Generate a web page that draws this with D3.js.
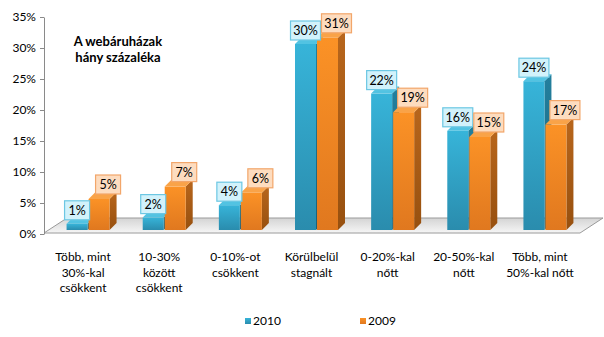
<!DOCTYPE html>
<html><head><meta charset="utf-8">
<script src="https://cdn.jsdelivr.net/npm/d3@7/dist/d3.min.js"></script>
<style>body{margin:0;background:#fff}svg{display:block;font-family:Lato,"Open Sans",sans-serif}</style>
</head><body><svg id="c" width="604" height="337"></svg>
<script>
const categories = [["Több, mint","30%-kal","csökkent"],["10-30%","között","csökkent"],["0-10%-ot","csökkent"],["Körülbelül","stagnált"],["0-20%-kal","nőtt"],["20-50%-kal","nőtt"],["Több, mint","50%-kal nőtt"]];
const values2010 = [1,2,4,30,22,16,24];
const values2009 = [5,7,6,31,19,15,17];
const seriesNames = ["2010","2009"];
const yTicks = [0,5,10,15,20,25,30,35];
const chartTitle = ["A webáruházak","hány százaléka"];

const svg = d3.select("#c");
const defs = svg.append("defs");
function grad(id, c1, c2, horiz){
  const g = defs.append("linearGradient").attr("id",id).attr("x1",0).attr("y1",0).attr("x2",horiz?1:0).attr("y2",horiz?0:1);
  g.append("stop").attr("offset","0%").attr("stop-color",c1);
  g.append("stop").attr("offset","100%").attr("stop-color",c2);
}
grad("bFront","#37b4d9","#2a8cad");
grad("oFront","#fb9226","#e0781f");
grad("bSide","#23809e","#1a6179");
grad("oSide","#b8661c","#97500f");
grad("floorG","#d4d4d4","#f6f6f6");

const x = d3.scaleBand().domain(d3.range(categories.length)).range([45,578]).padding(0);
const y = d3.scaleLinear().domain([0,35]).range([234,17]);
const depth = 4; // perspective shift of bar base vs axis
const dx = 7, dy = -7;

// floor
const fx0 = 44, fx1 = 580, fy = 233;
svg.append("polygon")
  .attr("points",[[fx0,fy],[fx1,fy],[fx1+23,fy-15],[fx0+23,fy-15]].map(p=>p.join(",")).join(" "))
  .attr("fill","url(#floorG)").attr("stroke","#9a9a9a").attr("stroke-width",1);

// y axis
const yAxis = d3.axisLeft(y).tickValues(yTicks).tickFormat(d=>d+"%").tickSize(4).tickSizeOuter(0);
const ga = svg.append("g").attr("transform","translate(44,0)").call(yAxis);
ga.select(".domain").attr("stroke","#8a8a8a");
ga.selectAll(".tick line").attr("stroke","#8a8a8a");
ga.selectAll(".tick text").attr("font-size",12).attr("fill","#000").attr("font-family","Lato").attr("x",-8);

function bar(cx, w, v, front, side, top){
  const yt = y(v)-depth, yb = y(0)-depth;
  const g = svg.append("g");
  g.append("polygon").attr("points",[[cx+w,yt],[cx+w+dx,yt+dy],[cx+w+dx,yb+dy],[cx+w,yb]].map(p=>p.join(",")).join(" ")).attr("fill",side);
  g.append("polygon").attr("points",[[cx,yt],[cx+dx,yt+dy],[cx+w+dx,yt+dy],[cx+w,yt]].map(p=>p.join(",")).join(" ")).attr("fill",top);
  g.append("rect").attr("x",cx).attr("y",yt).attr("width",w).attr("height",yb-yt).attr("fill",front);
}
function label(cx, yb, txt, fill, stroke){
  const w = txt.length>2 ? 30 : 25, h = 19;
  svg.append("rect").attr("x",cx-w/2).attr("y",yb-h).attr("width",w).attr("height",h)
    .attr("fill",fill).attr("stroke",stroke).attr("stroke-width",1.2);
  svg.append("text").attr("x",cx).attr("y",yb-5).attr("text-anchor","middle").attr("font-size",12.5).attr("fill","#000").text(txt);
}
const bw = 21;
categories.forEach((c,i)=>{
  const cc = x(i)+x.bandwidth()/2;
  const bx = cc-16.5, ox = cc+5.5;
  bar(bx,bw,values2010[i],"url(#bFront)","url(#bSide)","#52c3e2");
  bar(ox,bw,values2009[i],"url(#oFront)","url(#oSide)","#f9a348");
});
categories.forEach((c,i)=>{
  const cc = x(i)+x.bandwidth()/2;
  label(cc-6, y(values2010[i])-depth-4, values2010[i]+"%", "#d2f2fb", "#6cc7e3");
  label(cc+25, y(values2009[i])-depth-5, values2009[i]+"%", "#fddcbf", "#f2a66a");
  const t = svg.append("text").attr("text-anchor","middle").attr("font-size",12).attr("fill","#000");
  c.forEach((line,k)=>t.append("tspan").attr("x",cc).attr("y",261+k*15.5).text(line));
});

// title
chartTitle.forEach((t,k)=>svg.append("text").attr("x",118).attr("y",46+k*15.5).attr("text-anchor","middle")
  .attr("font-size",13).attr("font-weight","bold").attr("fill","#000").text(t));

// legend
const lg = [[245,"url(#bFront)"],[360,"url(#oFront)"]];
seriesNames.forEach((s,k)=>{
  svg.append("rect").attr("x",lg[k][0]).attr("y",318).attr("width",6).attr("height",6).attr("fill",lg[k][1]);
  svg.append("text").attr("x",lg[k][0]+8).attr("y",325).attr("font-size",12).attr("fill","#000").text(s);
});
</script></body></html>
